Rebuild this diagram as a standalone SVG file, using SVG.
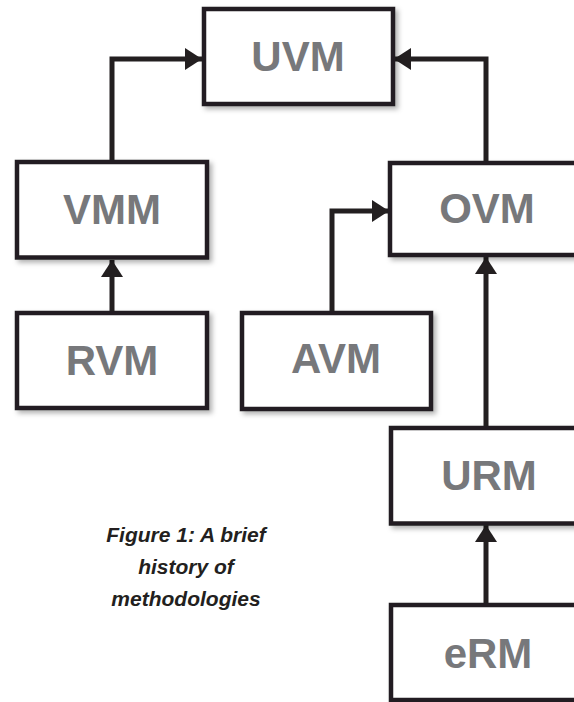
<svg xmlns="http://www.w3.org/2000/svg" width="574" height="702" viewBox="0 0 574 702">
<defs>
<filter id="sh" x="-10%" y="-10%" width="130%" height="130%">
<feDropShadow dx="3" dy="3" stdDeviation="2.5" flood-color="#000" flood-opacity="0.3"/>
</filter>
<marker id="ah" markerUnits="userSpaceOnUse" markerWidth="20" markerHeight="24" refX="17" refY="11" orient="auto" viewBox="0 0 20 22">
<path d="M0,0 L17,11 L0,22 Z" fill="#231f20"/>
</marker>
<style>
.box{fill:#fff;stroke:#231f20;stroke-width:4.5;filter:url(#sh)}
.lbl{font-family:"Liberation Sans",Arial,sans-serif;font-weight:bold;font-size:42px;fill:#77787b;text-anchor:middle}
.con{fill:none;stroke:#231f20;stroke-width:5;marker-end:url(#ah)}
.cap{font-family:"Liberation Sans",Arial,sans-serif;font-weight:bold;font-style:italic;font-size:21px;fill:#231f20;text-anchor:middle}
</style>
</defs>
<rect width="574" height="702" fill="#fff"/>
<g id="connectors">
<path class="con" d="M112,162 V59 H202"/>
<path class="con" d="M486,163 V59 H394"/>
<path class="con" d="M112,313 V260"/>
<path class="con" d="M332,313 V211 H389"/>
<path class="con" d="M486,428 V257"/>
<path class="con" d="M486,605 V525"/>
</g>
<g id="UVM"><rect class="box" x="204" y="9" width="189" height="95"/><text class="lbl" x="298" y="71">UVM</text></g>
<g id="VMM"><rect class="box" x="17" y="162" width="190" height="95.5"/><text class="lbl" x="112" y="224">VMM</text></g>
<g id="OVM"><rect class="box" x="390" y="163" width="220" height="92"/><text class="lbl" x="487" y="223">OVM</text></g>
<g id="RVM"><rect class="box" x="17" y="313" width="190" height="95"/><text class="lbl" x="112" y="375">RVM</text></g>
<g id="AVM"><rect class="box" x="242" y="313" width="189" height="96"/><text class="lbl" x="336" y="373">AVM</text></g>
<g id="URM"><rect class="box" x="391" y="428" width="220" height="95.5"/><text class="lbl" x="489" y="490">URM</text></g>
<g id="eRM"><rect class="box" x="391" y="605" width="220" height="95"/><text class="lbl" x="488" y="668">eRM</text></g>
<g id="caption">
<text class="cap" x="186" y="542">Figure 1: A brief</text>
<text class="cap" x="186" y="574">history of</text>
<text class="cap" x="186" y="606">methodologies</text>
</g>
</svg>
